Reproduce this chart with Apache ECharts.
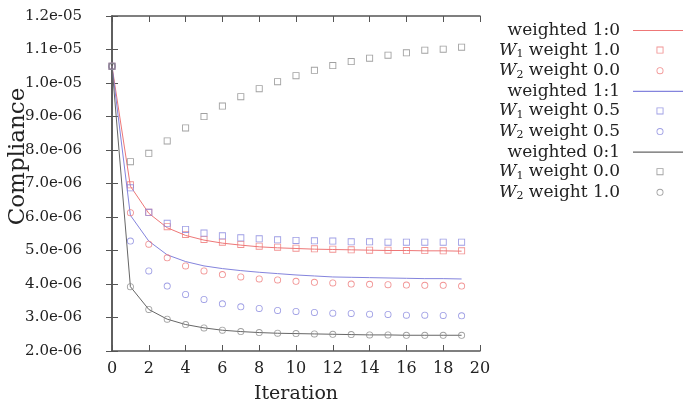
<!DOCTYPE html>
<html>
<head>
<meta charset="utf-8">
<script src="https://cdn.jsdelivr.net/npm/echarts@6/dist/echarts.min.js"></script>
<style>
  html, body { margin: 0; padding: 0; background: #fff; }
  #container { width: 683px; height: 408px; }
</style>
</head>
<body>
<div id="container"></div>
<script>
// iterations
var iterations = [0, 1, 2, 3, 4, 5, 6, 7, 8, 9, 10, 11, 12, 13, 14, 15, 16, 17, 18, 19];

// compliance values, in units of 1e-6
var weighted10 = [10.5, 6.92, 6.11, 5.68, 5.45, 5.31, 5.22, 5.16, 5.11, 5.08, 5.06, 5.04, 5.03, 5.02, 5.01, 5.00, 5.00, 4.99, 4.99, 4.98];
var w1weight10 = [10.5, 6.96, 6.14, 5.71, 5.48, 5.33, 5.25, 5.18, 5.13, 5.10, 5.07, 5.05, 5.04, 5.02, 5.01, 5.01, 5.00, 5.00, 4.99, 4.99];
var w2weight00 = [10.5, 6.13, 5.19, 4.78, 4.54, 4.39, 4.28, 4.21, 4.15, 4.12, 4.08, 4.05, 4.03, 4.00, 3.99, 3.98, 3.97, 3.96, 3.96, 3.94];

var weighted11 = [10.5, 6.05, 5.28, 4.87, 4.67, 4.54, 4.46, 4.40, 4.35, 4.31, 4.27, 4.24, 4.21, 4.20, 4.19, 4.18, 4.17, 4.16, 4.16, 4.15];
var w1weight05 = [10.5, 6.87, 6.14, 5.81, 5.63, 5.52, 5.44, 5.38, 5.35, 5.32, 5.30, 5.29, 5.28, 5.26, 5.26, 5.25, 5.25, 5.25, 5.25, 5.25];
var w2weight05 = [10.5, 5.28, 4.39, 3.94, 3.69, 3.54, 3.41, 3.32, 3.27, 3.21, 3.18, 3.15, 3.13, 3.12, 3.10, 3.09, 3.07, 3.07, 3.06, 3.05];

var weighted01 = [10.5, 3.92, 3.24, 2.95, 2.79, 2.69, 2.62, 2.58, 2.55, 2.53, 2.52, 2.51, 2.50, 2.49, 2.48, 2.48, 2.47, 2.47, 2.47, 2.47];
var w1weight00 = [10.5, 7.65, 7.90, 8.27, 8.66, 9.00, 9.31, 9.59, 9.83, 10.04, 10.22, 10.38, 10.52, 10.64, 10.74, 10.83, 10.90, 10.98, 11.01, 11.07];
var w2weight10 = [10.5, 3.92, 3.24, 2.95, 2.79, 2.69, 2.62, 2.58, 2.55, 2.53, 2.52, 2.51, 2.50, 2.49, 2.48, 2.48, 2.47, 2.47, 2.47, 2.47];

var red = '#ee7777';
var blue = '#8484dd';
var grey = '#888888';
var greyLine = '#666666';

// hollow marks drawn as paths so the outline stays thin
var squareIcon = 'path://M0,0H8V8H0ZM1,1V7H7V1Z';
var circleIcon = 'path://M4,0A4,4 0 1,1 4,8A4,4 0 1,1 4,0ZM4,1A3,3 0 1,0 4,7A3,3 0 1,0 4,1Z';
var lineIcon = 'path://M0,0H54V1.2H0Z';

function pairs(arr) {
    return arr.map(function (v, i) { return [iterations[i], v]; });
}

function lineSeries(name, arr, color) {
    return {
        name: name,
        type: 'line',
        data: pairs(arr),
        symbol: 'none',
        color: color,
        lineStyle: { width: 1, color: color },
        z: 1
    };
}

function markSeries(name, arr, color, icon) {
    return {
        name: name,
        type: 'scatter',
        data: pairs(arr),
        symbol: icon,
        symbolSize: 7,
        color: color,
        itemStyle: { color: color },
        z: 2
    };
}

var names = ['weighted 1:0', 'W1 weight 1.0', 'W2 weight 0.0',
             'weighted 1:1', 'W1 weight 0.5', 'W2 weight 0.5',
             'weighted 0:1', 'W1 weight 0.0', 'W2 weight 1.0'];
var icons = [lineIcon, squareIcon, circleIcon,
             lineIcon, squareIcon, circleIcon,
             lineIcon, squareIcon, circleIcon];
var colors = [red, red, red, blue, blue, blue, greyLine, grey, grey];

function expLabel(v) {
    var s = (v * 1e-6).toExponential(1);
    var p = s.split('e');
    var e = parseInt(p[1], 10);
    var a = Math.abs(e);
    return p[0] + 'e' + (e < 0 ? '-' : '+') + (a < 10 ? '0' + a : a);
}

var axisColor = '#555555';
var font = 'DejaVu Serif';

var charts = echarts.init(document.getElementById('container'));
var option = {
    backgroundColor: '#ffffff',
    animation: false,
    grid: { left: 112, right: 203, top: 16, bottom: 57, containLabel: false, outerBoundsMode: 'none' },
    legend: {
        orient: 'vertical',
        align: 'right',
        right: -4,
        top: 22,
        padding: 0,
        itemWidth: 54,
        itemHeight: 7,
        itemGap: 2.6,
        symbolKeepAspect: true,
        selectedMode: false,
        itemStyle: { borderWidth: 0 },
        data: names.map(function (n, i) {
            return { name: n, icon: icons[i], itemStyle: { color: colors[i], borderWidth: 0 } };
        }),
        formatter: function (name) {
            if (name.charAt(0) === 'W') {
                return '{i|W}{s|' + name.charAt(1) + '}' + name.slice(2);
            }
            return name;
        },
        textStyle: {
            fontFamily: font,
            fontSize: 17,
            color: '#222',
            padding: [0, 8, 0, 0],
            rich: {
                i: { fontFamily: font, fontSize: 17, fontStyle: 'italic', color: '#222' },
                s: { fontFamily: font, fontSize: 11, color: '#222', verticalAlign: 'bottom', padding: [8, 0, 0, 0] }
            }
        }
    },
    xAxis: [{
        type: 'value',
        min: 0,
        max: 20,
        interval: 2,
        name: 'Iteration',
        nameLocation: 'middle',
        nameGap: 34,
        nameTextStyle: { fontFamily: font, fontSize: 19, color: '#222' },
        axisLine: { lineStyle: { color: axisColor, width: 1.5 } },
        axisTick: { inside: true, length: 6, lineStyle: { color: axisColor } },
        axisLabel: { margin: 10, fontFamily: font, fontSize: 16, color: '#222' },
        splitLine: { show: false }
    }, {
        type: 'value',
        position: 'top',
        min: 0,
        max: 20,
        interval: 2,
        axisLine: { lineStyle: { color: axisColor, width: 1.5 } },
        axisTick: { inside: true, length: 6, lineStyle: { color: axisColor } },
        axisLabel: { show: false },
        splitLine: { show: false }
    }],
    yAxis: [{
        type: 'value',
        min: 2,
        max: 12,
        interval: 1,
        name: 'Compliance',
        nameLocation: 'middle',
        nameGap: 82,
        nameMoveOverlap: false,
        nameTextStyle: { fontFamily: font, fontSize: 23, color: '#222', padding: [0, 0, 0, 54] },
        axisLine: { show: true, lineStyle: { color: axisColor, width: 1.5 } },
        axisTick: { show: true, inside: true, length: 6, lineStyle: { color: axisColor } },
        axisLabel: { margin: 30, fontFamily: font, fontSize: 15, color: '#222', formatter: expLabel },
        splitLine: { show: false }
    }, {
        type: 'value',
        position: 'right',
        min: 2,
        max: 12,
        interval: 1,
        axisLine: { show: true, lineStyle: { color: axisColor, width: 1.5 } },
        axisTick: { show: true, inside: true, length: 6, lineStyle: { color: axisColor } },
        axisLabel: { show: false },
        splitLine: { show: false }
    }],
    series: [
        lineSeries(names[0], weighted10, red),
        markSeries(names[1], w1weight10, red, squareIcon),
        markSeries(names[2], w2weight00, red, circleIcon),
        lineSeries(names[3], weighted11, blue),
        markSeries(names[4], w1weight05, blue, squareIcon),
        markSeries(names[5], w2weight05, blue, circleIcon),
        lineSeries(names[6], weighted01, greyLine),
        markSeries(names[7], w1weight00, grey, squareIcon),
        markSeries(names[8], w2weight10, grey, circleIcon)
    ]
};
charts.setOption(option);
</script>
</body>
</html>
